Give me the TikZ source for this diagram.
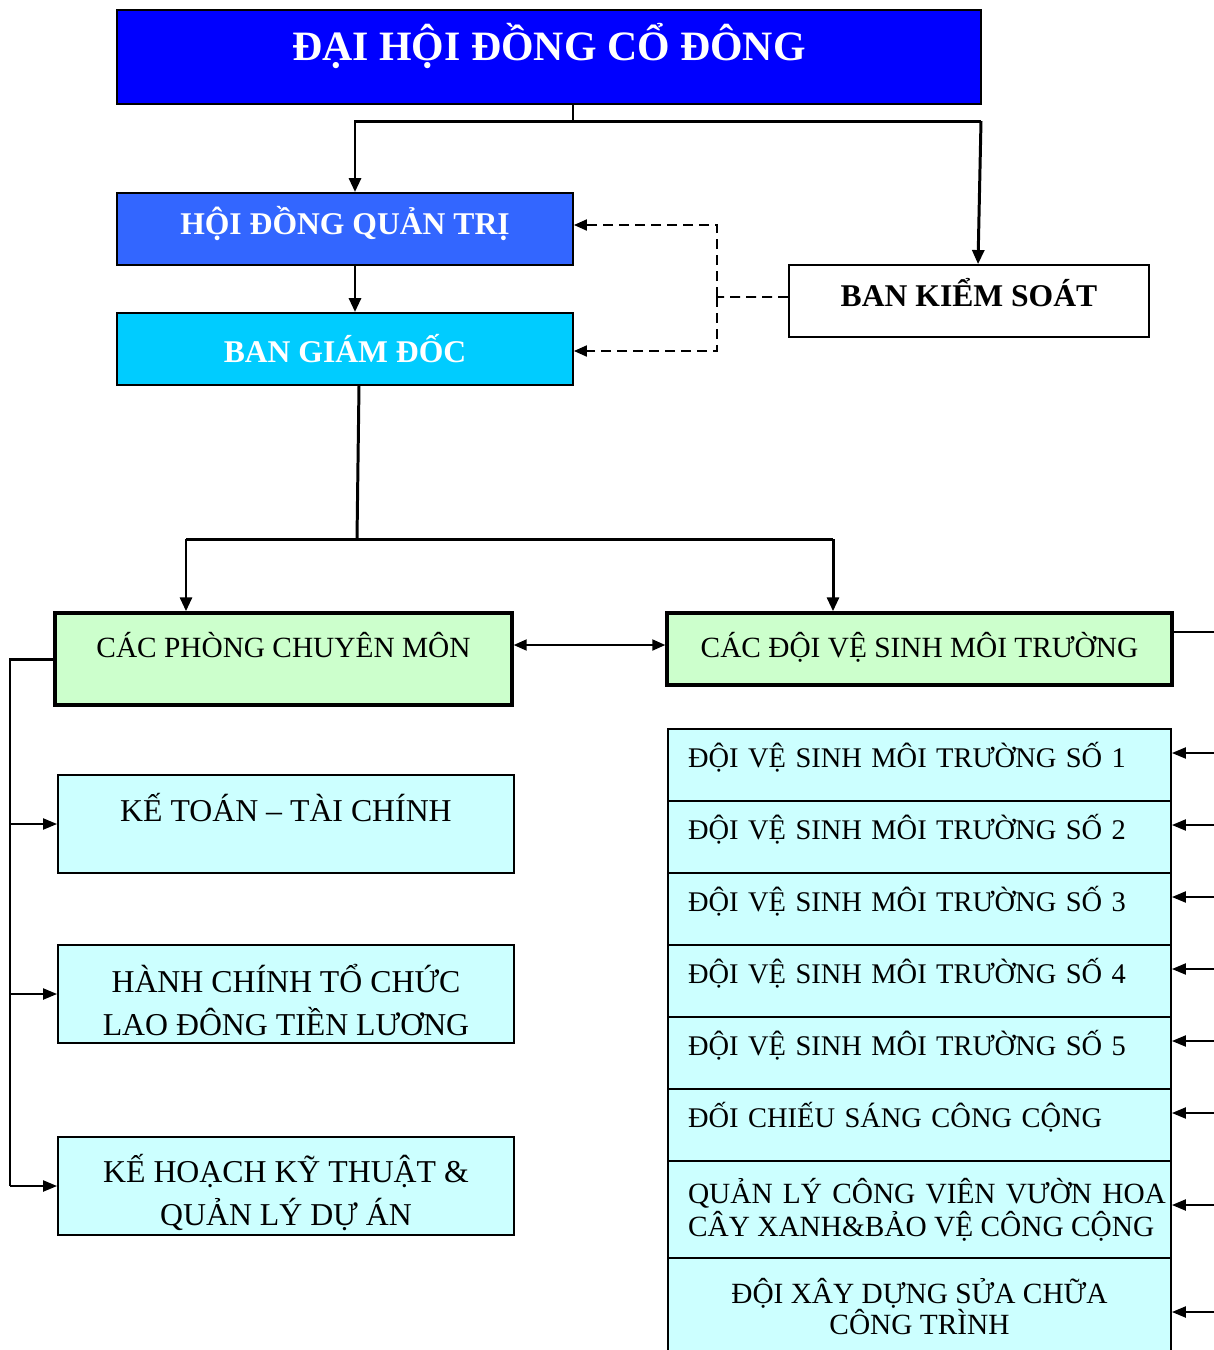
\documentclass[tikz,border=0pt]{standalone}
\usepackage{fontspec}
\setmainfont{Liberation Serif}
\usetikzlibrary{arrows.meta,calc}
\definecolor{dhdblue}{RGB}{0,0,255}
\definecolor{hdqtblue}{RGB}{51,102,255}
\definecolor{bgdcyan}{RGB}{0,204,255}
\definecolor{paleg}{RGB}{204,255,204}
\definecolor{palec}{RGB}{204,255,255}
\begin{document}
\begin{tikzpicture}[x=0.02cm,y=-0.02cm,
    topbox/.style={draw,line width=1.1pt,inner sep=0pt,text=white,
      font=\bfseries\fontsize{18}{21}\selectfont,
      minimum width=9.12cm,minimum height=1.44cm},
    grbox/.style={draw,line width=2pt,fill=paleg,inner sep=0pt,
      font=\fontsize{16.7}{20}\selectfont,minimum height=1.44cm},
    cybox/.style={draw,line width=1.1pt,fill=palec,inner sep=0pt,
      font=\fontsize{18.1}{24.4}\selectfont,align=center,
      minimum width=9.12cm,minimum height=1.96cm},
    rowbase/.style={draw,line width=1.1pt,fill=palec,inner ysep=0pt,
      minimum width=10.06cm},
    rowbox/.style={rowbase,inner xsep=0.4cm,text width=9.26cm,align=left,
      font=\fontsize{16.2}{18.7}\selectfont,minimum height=1.44cm,
      text height=0.3cm,text depth=0.22cm},
    link/.style={line width=1.7pt,-{Triangle[length=0.28cm,width=0.24cm]}},
    sidelink/.style={line width=1.2pt,-{Triangle[length=0.28cm,width=0.22cm]}},
    ctrl/.style={line width=1.1pt,dash pattern=on 0.2cm off 0.12cm}]
  \useasboundingbox (0,0) rectangle (1214,1350);
  \clip (0,0) rectangle (1214,1350);

  % upper part
  \node[draw,line width=1.1pt,fill=dhdblue,text=white,inner sep=0pt,
    font=\bfseries\fontsize{23.8}{28}\selectfont,
    minimum width=17.28cm,minimum height=1.88cm,
    text height=0.5cm,text depth=0.38cm] (dhd) at (549,57) {ĐẠI HỘI ĐỒNG CỔ ĐÔNG};
  \node[topbox,fill=hdqtblue,text height=0.4cm,text depth=0.2cm] (hdqt) at (345,229) {HỘI ĐỒNG QUẢN TRỊ};
  \node[topbox,fill=bgdcyan,text height=0.52cm,text depth=0cm] (bgd) at (345,349) {BAN GIÁM ĐỐC};
  \node[topbox,fill=white,text=black,minimum width=7.2cm,
    text height=0.4cm,text depth=0.2cm] (bks) at (969,301) {BAN KIỂM SOÁT};

  \coordinate (tj) at (573,121);
  \coordinate (tl) at (355,121);
  \coordinate (tr) at (981,121);
  \draw[line width=1.7pt] (dhd.south -| tj) -- (tj);
  \draw[link] (tr) -- (tl) -- (tl |- hdqt.north);
  \draw[link] (tr) -- ([xshift=0.18cm]bks.north);
  \draw[link] ([xshift=0.2cm]hdqt.south) -- ([xshift=0.2cm]bgd.north);

  \coordinate (dj) at (717,297);
  \draw[ctrl] ([yshift=0.08cm]bks.west) -- (dj);
  \draw[ctrl,-{Triangle[length=0.26cm,width=0.22cm]}] (dj) |- ([yshift=0.08cm]hdqt.east);
  \draw[ctrl,-{Triangle[length=0.26cm,width=0.22cm]}] (dj) |- ([yshift=-0.04cm]bgd.east);

  % two branches
  \node[grbox,minimum width=9.14cm,minimum height=1.84cm,
    text height=0.3cm,text depth=0.38cm] (phong) at (283.5,659) {CÁC PHÒNG CHUYÊN MÔN};
  \node[grbox,minimum width=10.1cm,text height=0.4cm,text depth=0.08cm] (doi) at (919.5,649) {CÁC ĐỘI VỆ SINH MÔI TRƯỜNG};

  \coordinate (mj) at (357,539);
  \coordinate (ml) at (186,539);
  \coordinate (mr) at (833,539);
  \draw[line width=1.7pt] ([xshift=0.28cm]bgd.south) -- (mj);
  \draw[line width=1.7pt] (ml) -- (mr);
  \draw[link] (ml) -- (ml |- phong.north);
  \draw[link] (mr) -- (mr |- doi.north);
  \draw[line width=1.1pt,{Triangle[length=0.26cm,width=0.22cm]}-{Triangle[length=0.26cm,width=0.22cm]}]
    ([yshift=0.28cm]phong.east) -- ([yshift=0.08cm]doi.west);

  % left column
  \node[cybox,text height=0.32cm,text depth=0.44cm] (kt) at (286,824) {KẾ TOÁN – TÀI CHÍNH};
  \node[cybox] (hc) at (286,994) {\rule{0pt}{0.8cm}HÀNH CHÍNH TỔ CHỨC\\LAO ĐÔNG TIỀN LƯƠNG};
  \node[cybox] (kh) at (286,1186) {\rule{0pt}{0.84cm}KẾ HOẠCH KỸ THUẬT \&\\QUẢN LÝ DỰ ÁN};

  \coordinate (lb) at (10,659);
  \draw[line width=1.7pt] (phong.west) -- (lb) -- (lb |- kh.west);
  \foreach \b in {kt,hc,kh}
    \draw[sidelink] (lb |- \b.west) -- (\b.west);

  % right column
  \node[rowbox] (r1) at (919.5,765) {ĐỘI VỆ SINH MÔI TRƯỜNG SỐ 1};
  \node[rowbox] (r2) at (919.5,837) {ĐỘI VỆ SINH MÔI TRƯỜNG SỐ 2};
  \node[rowbox] (r3) at (919.5,909) {ĐỘI VỆ SINH MÔI TRƯỜNG SỐ 3};
  \node[rowbox] (r4) at (919.5,981) {ĐỘI VỆ SINH MÔI TRƯỜNG SỐ 4};
  \node[rowbox] (r5) at (919.5,1053) {ĐỘI VỆ SINH MÔI TRƯỜNG SỐ 5};
  \node[rowbox] (r6) at (919.5,1125) {ĐỐI CHIẾU SÁNG CÔNG CỘNG};
  \node[rowbase,inner xsep=0pt,font=\fontsize{16.7}{18.7}\selectfont,
    minimum height=1.94cm] (r7) at (919.5,1209.5)
    {\hspace{0.3cm}\parbox{9.56cm}{QUẢN LÝ CÔNG VIÊN VƯỜN HOA CÂY XANH\&BẢO VỆ CÔNG CỘNG}};
  \node[rowbase,inner xsep=0pt,align=center,
    font=\fontsize{16.7}{17}\selectfont,minimum height=1.94cm] (r8) at (919.5,1306.5)
    {ĐỘI XÂY DỰNG SỬA CHỮA\\CÔNG TRÌNH};

  \coordinate (rb) at (1240,632);
  \draw[line width=1.1pt] ([yshift=0.34cm]doi.east) -- (rb) -- (rb |- r8.south);
  \foreach \n/\dy in {1/-12,2/-12,3/-12,4/-12,5/-12,6/-12,7/-4.5,8/5.5}{
    \coordinate (t\n) at ($(r\n.east)+(0,\dy)$);
    \draw[sidelink] (rb |- t\n) -- (t\n);
  }
\end{tikzpicture}
\end{document}
